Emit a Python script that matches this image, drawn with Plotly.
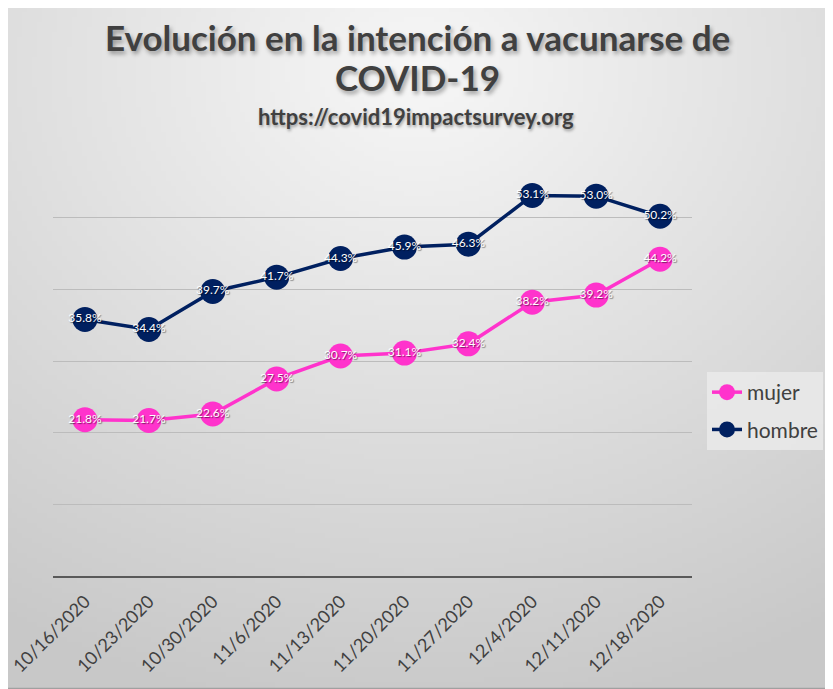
import plotly.graph_objects as go
import numpy as np
import zlib, struct, base64

dates = ["10/16/2020", "10/23/2020", "10/30/2020", "11/6/2020", "11/13/2020",
         "11/20/2020", "11/27/2020", "12/4/2020", "12/11/2020", "12/18/2020"]
mujer = [21.8, 21.7, 22.6, 27.5, 30.7, 31.1, 32.4, 38.2, 39.2, 44.2]
hombre = [35.8, 34.4, 39.7, 41.7, 44.3, 45.9, 46.3, 53.1, 53.0, 50.2]

W, H = 833, 689
OFF = 8  # page body margin
L, T = 53 - OFF, 146 - OFF
PW, PH = 639, 430
R, B = W - L - PW, H - T - PH
def px(x): return (x - OFF - L) / PW
def py(y): return (T + PH - (y - OFF)) / PH

# radial gradient background image
w, h = 168, 139
yy, xx = np.mgrid[0:h, 0:w]
cx, cy = w * 0.50, h * 0.10
d = np.sqrt(((xx - cx) / w) ** 2 + ((yy - cy) / h) ** 2) / 0.95
d = np.clip(d, 0, 1)
val = (247 - (247 - 200) * d).astype(np.uint8)
raw = b"".join(b"\x00" + bytes(np.repeat(row[:, None], 3, axis=1).flatten()) for row in val)
def chunk(t, data):
    c = struct.pack(">I", len(data)) + t + data
    return c + struct.pack(">I", zlib.crc32(t + data) & 0xffffffff)
png = b"\x89PNG\r\n\x1a\n" + chunk(b"IHDR", struct.pack(">IIBBBBB", w, h, 8, 2, 0, 0, 0)) \
      + chunk(b"IDAT", zlib.compress(raw)) + chunk(b"IEND", b"")
uri = "data:image/png;base64," + base64.b64encode(png).decode()

FONT = "Lato"
fig = go.Figure()
for name, vals, col in [("mujer", mujer, "#FF33CC"), ("hombre", hombre, "#002060")]:
    fig.add_trace(go.Scatter(
        x=dates, y=vals, name=name, legendgroup=name, mode="lines+markers+text",
        line=dict(color=col, width=3.5),
        marker=dict(color=col, size=25),
        text=[f"{v:.1f}%" for v in vals], textposition="middle center",
        textfont=dict(color="white", size=12, family=FONT,
                      shadow="1px 1px 1px rgba(0,0,0,0.5)"),
        cliponaxis=False,
    ))

title_font = dict(family=FONT, size=35, color="#404040", shadow="2px 3px 4px rgba(0,0,0,0.35)")
fig.update_layout(
    width=W, height=H,
    margin=dict(l=L, r=R, t=T, b=B, autoexpand=False),
    paper_bgcolor="#e6e6e6", plot_bgcolor="rgba(0,0,0,0)",
    images=[dict(source=uri, xref="paper", yref="paper", x=px(0), y=py(0),
                 sizex=W / PW, sizey=H / PH,
                 xanchor="left", yanchor="top", sizing="stretch", layer="below")],
    annotations=[
        dict(text="<b>Evolución en la intención a vacunarse de</b>", xref="paper", yref="paper",
             x=px(417), y=py(37), xanchor="center", yanchor="middle", showarrow=False,
             font=title_font),
        dict(text="<b>COVID-19</b>", xref="paper", yref="paper",
             x=px(417), y=py(77), xanchor="center", yanchor="middle", showarrow=False,
             font=title_font),
        dict(text="<b>https://covid19impactsurvey.org</b>", xref="paper", yref="paper",
             x=px(416), y=py(117), xanchor="center", yanchor="middle", showarrow=False,
             font=dict(family=FONT, size=22, color="#404040",
                       shadow="1px 2px 3px rgba(0,0,0,0.35)")),
    ],
    xaxis=dict(type="category", range=[-0.5, 9.5], showgrid=False, showline=True,
               linecolor="#595959", linewidth=2, ticks="", tickangle=-45, automargin=False,
               ticklabelstandoff=6,
               tickfont=dict(family=FONT, size=18, color="#404040"), fixedrange=True),
    yaxis=dict(range=[0, 60], dtick=10, showgrid=True, gridcolor="#bcbcbc", gridwidth=1,
               showticklabels=False, zeroline=False, showline=False, fixedrange=True,
               automargin=False),
    legend=dict(x=px(707), y=py(372), xanchor="left", yanchor="top",
                bgcolor="rgba(235,235,235,0.8)", font=dict(family=FONT, size=21, color="#404040"),
                itemwidth=30, tracegroupgap=7, traceorder="grouped"),
    shapes=[dict(type="rect", xref="paper", yref="paper", x0=px(0.5), y0=py(H - 0.5),
                 x1=px(W - 0.5), y1=py(0.5), line=dict(color="#a0a0a0", width=1.5))],
    showlegend=True,
)
fig.write_html("out.html")
